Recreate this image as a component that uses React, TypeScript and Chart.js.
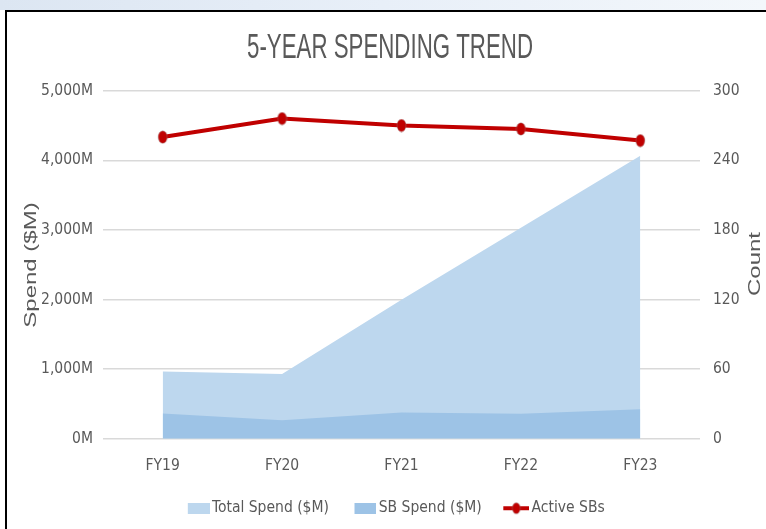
import React, { useEffect, useRef } from 'react';
import { Chart, registerables } from 'chart.js';

Chart.register(...registerables);

const categories = ['FY19', 'FY20', 'FY21', 'FY22', 'FY23'];
const totalSpend = [965, 928, 1995, 3030, 4065];
const sbSpend = [361, 265, 375, 360, 424];
const activeSBs = [260, 276, 270, 267, 257];
const seriesLabels = ['Total Spend ($M)', 'SB Spend ($M)', 'Active SBs'];
const chartTitle = '5-YEAR SPENDING TREND';
const leftAxisTitle = 'Spend ($M)';
const rightAxisTitle = 'Count';

const TEXT = '#595959';
const NARROW = '"Liberation Sans Narrow", "Arial Narrow", "DejaVu Sans Condensed", "Liberation Sans", sans-serif';
const WIDE = '"Liberation Sans", Arial, sans-serif';
const TOTAL_COLOR = '#BDD7EE';
const SB_COLOR = '#9DC3E6';
const LINE_COLOR = '#C00000';

function drawEllipse(g: CanvasRenderingContext2D, cx: number, cy: number, rx: number, ry: number) {
  g.fillStyle = LINE_COLOR;
  g.beginPath();
  g.ellipse(cx, cy, rx, ry, 0, 0, Math.PI * 2);
  g.fill();
  g.strokeStyle = 'rgba(140,140,140,0.45)';
  g.lineWidth = 0.8;
  g.stroke();
}

function makeMarker(): HTMLCanvasElement {
  const c = document.createElement('canvas');
  c.width = 11;
  c.height = 14;
  const g = c.getContext('2d')!;
  drawEllipse(g, 5.5, 7, 4.5, 6.2);
  return c;
}

function makeRectIcon(color: string): HTMLCanvasElement {
  const c = document.createElement('canvas');
  c.width = 33;
  c.height = 11;
  const g = c.getContext('2d')!;
  g.fillStyle = color;
  g.fillRect(11, 0, 22, 11);
  return c;
}

function makeLineIcon(): HTMLCanvasElement {
  const c = document.createElement('canvas');
  c.width = 33;
  c.height = 14;
  const g = c.getContext('2d')!;
  g.strokeStyle = LINE_COLOR;
  g.lineWidth = 4;
  g.beginPath();
  g.moveTo(7, 7);
  g.lineTo(33, 7);
  g.stroke();
  drawEllipse(g, 20, 7, 4, 5.5);
  return c;
}

const textPlugin = {
  id: 'customTexts',
  afterDraw(chart: any) {
    const ctx = chart.ctx as CanvasRenderingContext2D;
    ctx.save();
    ctx.fillStyle = TEXT;
    ctx.font = `35px ${WIDE}`;
    ctx.textAlign = 'center';
    ctx.textBaseline = 'alphabetic';
    const w = ctx.measureText(chartTitle).width;
    const sx = 286 / w;
    ctx.save();
    ctx.translate(390, 58.3);
    ctx.scale(sx, 1);
    ctx.fillText(chartTitle, 0, 0);
    ctx.restore();
    ctx.font = `24px ${WIDE}`;
    ctx.textBaseline = 'middle';
    const drawRot = (t: string, x: number, y: number) => {
      ctx.save();
      ctx.translate(x, y);
      ctx.rotate(-Math.PI / 2);
      ctx.scale(1, 0.72);
      ctx.fillText(t, 0, 0);
      ctx.restore();
    };
    drawRot(leftAxisTitle, 31, 265);
    drawRot(rightAxisTitle, 755, 264);
    ctx.restore();
  },
};

export default function App() {
  const ref = useRef<HTMLCanvasElement>(null);

  useEffect(() => {
    if (!ref.current) return;
    const marker = makeMarker();
    const icons = [makeRectIcon(TOTAL_COLOR), makeRectIcon(SB_COLOR), makeLineIcon()];
    const tickFont = { family: NARROW, size: 15.5 };

    const chart = new Chart(ref.current, {
      type: 'line',
      data: {
        labels: categories,
        datasets: [
          {
            label: seriesLabels[0],
            data: totalSpend,
            fill: 'origin',
            backgroundColor: TOTAL_COLOR,
            borderColor: 'rgba(0,0,0,0)',
            borderWidth: 0,
            pointRadius: 0,
            tension: 0,
            yAxisID: 'y',
            order: 2,
          },
          {
            label: seriesLabels[1],
            data: sbSpend,
            fill: 'origin',
            backgroundColor: SB_COLOR,
            borderColor: 'rgba(0,0,0,0)',
            borderWidth: 0,
            pointRadius: 0,
            tension: 0,
            yAxisID: 'y',
            order: 1,
          },
          {
            label: seriesLabels[2],
            data: activeSBs,
            fill: false,
            borderColor: LINE_COLOR,
            backgroundColor: LINE_COLOR,
            borderWidth: 4,
            pointStyle: marker as any,
            pointRadius: 5,
            tension: 0,
            yAxisID: 'y1',
            order: 0,
          },
        ],
      },
      options: {
        responsive: false,
        animation: false,
        devicePixelRatio: 1,
        layout: { padding: { top: 90.7, bottom: 3, left: 21, right: 0 } },
        scales: {
          x: {
            offset: true,
            grid: { display: false, drawTicks: false },
            border: { display: false },
            ticks: { color: TEXT, font: tickFont, padding: 18 },
            afterFit: (s: any) => {
              s.height = 41.8;
            },
          },
          y: {
            position: 'left',
            min: 0,
            max: 5000,
            grid: { color: '#D9D9D9', lineWidth: 1.5, drawTicks: false },
            border: { display: false },
            ticks: {
              stepSize: 1000,
              color: TEXT,
              font: tickFont,
              padding: 10,
              callback: (v: any) => `${Number(v).toLocaleString('en-US')}M`,
            },
            afterFit: (s: any) => {
              s.width = 82;
            },
          },
          y1: {
            position: 'right',
            min: 0,
            max: 300,
            grid: { display: false, drawTicks: false },
            border: { display: false },
            ticks: { stepSize: 60, color: TEXT, font: tickFont, padding: 13 },
            afterFit: (s: any) => {
              s.width = 66;
            },
          },
        },
        plugins: {
          legend: {
            position: 'bottom',
            labels: {
              usePointStyle: true,
              pointStyleWidth: 22,
              padding: 20,
              color: TEXT,
              font: tickFont,
              generateLabels: (c: any) =>
                c.data.datasets.map((ds: any, i: number) => ({
                  text: ds.label,
                  pointStyle: icons[i],
                  datasetIndex: i,
                  fontColor: TEXT,
                  hidden: false,
                  lineWidth: 0,
                  strokeStyle: 'rgba(0,0,0,0)',
                  fillStyle: 'rgba(0,0,0,0)',
                })),
            },
          },
          tooltip: { enabled: false },
          title: { display: false },
        },
      },
      plugins: [textPlugin],
    });
    return () => chart.destroy();
  }, []);

  return (
    <div style={{ position: 'absolute', left: 0, top: 0, width: 766, height: 529, overflow: 'hidden', background: '#fff' }}>
      <div
        style={{
          position: 'absolute',
          left: 0,
          top: 0,
          width: 766,
          height: 10,
          background: 'linear-gradient(to right, #DCE6F2, #E8EFF8 50%, #F3F7FB)',
        }}
      />
      <div
        style={{
          position: 'absolute',
          left: 5,
          top: 10,
          width: 800,
          height: 600,
          borderLeft: '2px solid #000',
          borderTop: '2px solid #000',
          background: '#fff',
        }}
      />
      <canvas ref={ref} width={766} height={529} style={{ position: 'absolute', left: 0, top: 0, width: 766, height: 529 }} />
    </div>
  );
}
